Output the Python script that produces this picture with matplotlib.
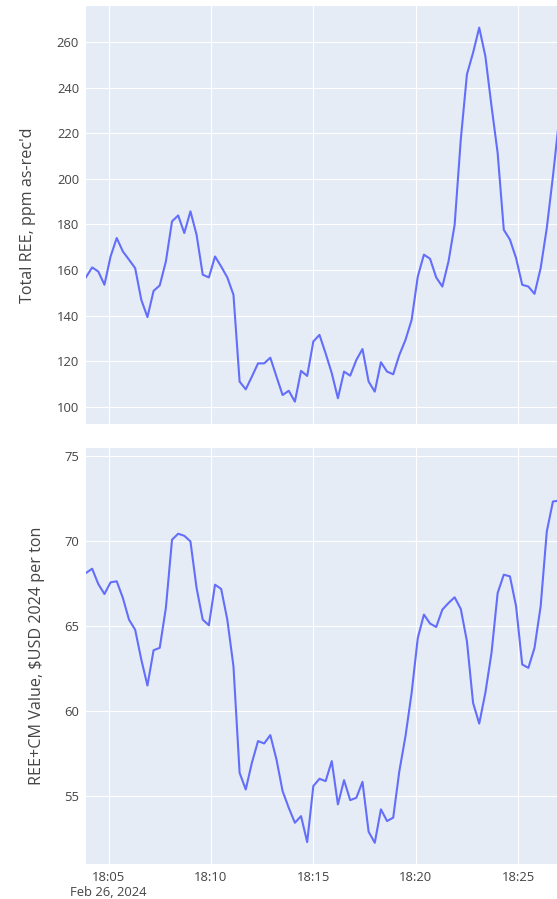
import datetime as dt
import matplotlib
matplotlib.use("Agg")
import matplotlib.pyplot as plt
import matplotlib.dates as mdates
import matplotlib.ticker as mticker
import pandas as pd

# readings every 18 s starting 18:03:54 (last one falls just past the crop)
total_ree = [156.8, 161.1, 159.3, 153.5, 165.9, 174.0, 168.1, 164.5, 160.8, 146.9,
             139.3, 150.8, 153.2, 163.7, 181.3, 183.9, 176.2, 185.7, 175.4, 157.9,
             156.7, 165.9, 161.5, 156.7, 149.1, 111.0, 107.6, 113.2, 119.0, 119.0,
             121.5, 113.2, 105.1, 107.0, 102.2, 115.7, 113.5, 128.6, 131.5, 123.4,
             114.7, 103.7, 115.4, 113.6, 120.5, 125.3, 111.0, 106.6, 119.5, 115.4,
             114.2, 122.7, 129.3, 138.1, 157.1, 166.7, 164.9, 156.7, 152.7, 163.7,
             179.8, 217.2, 245.8, 255.3, 266.3, 253.8, 231.9, 211.3, 177.6, 173.3,
             165.2, 153.5, 152.7, 149.5, 160.8, 178.4, 201.1, 226.0]

ree_cm_value = [68.14, 68.39, 67.49, 66.90, 67.59, 67.65, 66.67, 65.39, 64.80, 63.04,
                61.51, 63.59, 63.73, 66.08, 70.10, 70.45, 70.33, 70.00, 67.25, 65.39,
                65.06, 67.45, 67.20, 65.39, 62.65, 56.37, 55.39, 56.96, 58.24, 58.10,
                58.59, 57.16, 55.29, 54.31, 53.43, 53.82, 52.29, 55.59, 56.02, 55.88,
                57.06, 54.51, 55.94, 54.76, 54.90, 55.84, 52.90, 52.25, 54.22, 53.53,
                53.73, 56.47, 58.53, 61.08, 64.31, 65.69, 65.16, 64.96, 65.98, 66.37,
                66.71, 66.02, 64.12, 60.49, 59.27, 61.08, 63.43, 66.96, 68.04, 67.94,
                66.18, 62.75, 62.55, 63.73, 66.18, 70.59, 72.35, 72.40]

times = pd.date_range("2024-02-26 18:03:54", periods=len(total_ree), freq="18s")

top_ticks = [100, 120, 140, 160, 180, 200, 220, 240, 260]
bottom_ticks = [55, 60, 65, 70, 75]
x_ticks = ["18:05", "18:10", "18:15", "18:20", "18:25", "18:30"]

BG = "#E5ECF6"
LINE = "#636EFA"
TXT = "#444444"

plt.rcParams["font.family"] = ["Open Sans", "DejaVu Sans"]

W, H = 557, 899
fig = plt.figure(figsize=(W / 100, H / 100), dpi=100)


def px_axes(left, top, right, bottom):
    return fig.add_axes([left / W, 1 - bottom / H, (right - left) / W, (bottom - top) / H])


ax1 = px_axes(86, 6, 557, 424)
ax2 = px_axes(86, 448, 557, 864)

x_start = times[0]
# axis visible up to the crop edge: 471 px at 20.48 px per minute
x_end = x_start + pd.Timedelta(minutes=471 / 20.48)
tick_times = [pd.Timestamp("2024-02-26 " + t) for t in x_ticks]


def fmt(x, pos):
    d = mdates.num2date(x)
    s = d.strftime("%H:%M")
    if s == "18:05":
        s += "\nFeb 26, 2024"
    return s


for ax, vals, ticks, ylim, label, lx in [
    (ax1, total_ree, top_ticks, (92.4, 275.8), "Total REE, ppm as-rec'd", -0.106),
    (ax2, ree_cm_value, bottom_ticks, (51.0, 75.5), "REE+CM Value, $USD 2024 per ton", -0.088),
]:
    ax.set_facecolor(BG)
    ax.plot(times, vals, color=LINE, linewidth=1.5, solid_joinstyle="round")
    ax.set_xlim(x_start, x_end)
    ax.set_ylim(*ylim)
    ax.set_yticks(ticks)
    ax.xaxis.set_major_locator(mticker.FixedLocator(mdates.date2num(tick_times)))
    ax.xaxis.set_major_formatter(mticker.FuncFormatter(fmt))
    ax.grid(True, color="white", linewidth=0.8)
    ax.set_axisbelow(True)
    for s in ax.spines.values():
        s.set_visible(False)
    ax.tick_params(length=0, colors=TXT, labelsize=9.4, pad=5)
    ax.set_ylabel(label, fontsize=11.6, color=TXT)
    ax.yaxis.set_label_coords(lx, 0.5)

ax1.tick_params(axis="x", labelbottom=False)
for t in ax2.get_xticklabels():
    t.set_multialignment("center")

fig.savefig("out.png", dpi=100)
